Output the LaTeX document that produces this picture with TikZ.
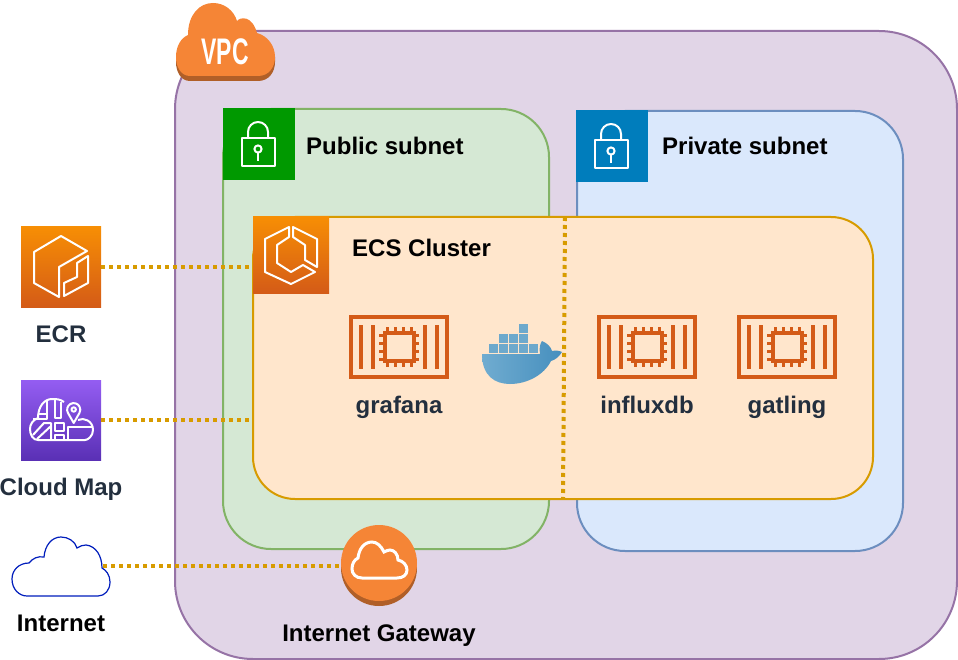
\documentclass[tikz,border=0pt]{standalone}
\usepackage{fontspec}
\setmainfont{Liberation Sans}
\definecolor{vpcfill}{HTML}{E1D5E7}
\definecolor{vpcline}{HTML}{9673A6}
\definecolor{pubfill}{HTML}{D5E8D4}
\definecolor{publine}{HTML}{82B366}
\definecolor{prifill}{HTML}{DAE8FC}
\definecolor{priline}{HTML}{6C8EBF}
\definecolor{ecsfill}{HTML}{FFE6CC}
\definecolor{ecsline}{HTML}{D79B00}
\definecolor{awsink}{HTML}{232F3E}
\definecolor{awsorange}{HTML}{F58536}
\definecolor{awsshadow}{HTML}{B05F28}
\definecolor{chipline}{HTML}{D45B17}
\definecolor{chiptop}{HTML}{F78E04}
\definecolor{mapltop}{HTML}{945DF2}
\definecolor{maplbot}{HTML}{5A30B5}
\definecolor{netline}{HTML}{001DBC}
\definecolor{cratefill}{HTML}{6DA9CC}
\definecolor{prilockfill}{HTML}{007DBC}
\definecolor{publockfill}{HTML}{009900}
\tikzset{
    groupbox/.style={draw, line width=2pt, inner sep=0pt},
    iconbox/.style={inner sep=0pt, minimum size=#1},
    caption/.style={font=\fontsize{24}{28}\selectfont\bfseries, inner sep=0pt, anchor=base},
    linkline/.style={draw=ecsline, line width=4pt, dash pattern=on 4pt off 4pt},
    whitestroke/.style={draw=white, line width=2pt, line join=round},
    lockicon/.pic={
        \draw[whitestroke] (-17,-6) rectangle (16,22);
        \draw[whitestroke] (-11,-6) -- (-11,-12) arc (180:360:10) -- (9,-6);
        \draw[whitestroke] (-1,5) circle (3.6);
        \draw[whitestroke] (-1,8.6) -- (-1,17);
    },
    chipicon/.pic={
        \draw[chipline, line width=4pt] (-48,-30) rectangle (48,30);
        \foreach \x in {-38,-26,26,38}
            \draw[chipline, line width=4pt] (\x,-22) -- (\x,22);
        \draw[chipline, line width=4pt] (-14.5,-14) rectangle (14.5,14);
        \foreach \p in {-12,-4,4,12} {
            \draw[chipline, line width=3pt] (\p,-20) -- (\p,20);
            \draw[chipline, line width=3pt] (-20,\p) -- (20,\p);
        }
        \fill[ecsfill] (-12.5,-12) rectangle (12.5,12);
    },
}

\begin{document}
\begin{tikzpicture}[x=1pt,y=-1pt]
    \useasboundingbox (0,0) rectangle (958,660);

    % Группы
    \node (vpc) at (566,345) [groupbox, draw=vpcline, fill=vpcfill, rounded corners=78pt,
        minimum width=782pt, minimum height=628pt] {};
    \node (public) at (386,329) [groupbox, draw=publine, fill=pubfill, rounded corners=48pt,
        minimum width=326pt, minimum height=440pt] {};
    \node (private) at (740,331) [groupbox, draw=priline, fill=prifill, rounded corners=48pt,
        minimum width=326pt, minimum height=440pt] {};
    \node (cluster) at (563,358) [groupbox, draw=ecsline, fill=ecsfill, rounded corners=42pt,
        minimum width=620pt, minimum height=282pt] {};

    % Облако VPC
    \fill[awsshadow] (190,81) .. controls (181,81) and (176,72) .. (176,62) -- (176,57) -- (275,57) -- (275,62)
        .. controls (275,72) and (269,81) .. (258,81) -- cycle;
    \fill[awsorange] (190,76) .. controls (181,76) and (176,67) .. (176,57)
        .. controls (176,46) and (181,38) .. (188,35)
        .. controls (188,15) and (199,3) .. (213,3)
        .. controls (225,3) and (234,11) .. (237,21)
        .. controls (240,17) and (252,15) .. (257,33)
        .. controls (268,36) and (275,46) .. (275,57)
        .. controls (275,67) and (269,76) .. (258,76) -- cycle;
    \node (vpclabel) at (225,52) [text=white, xscale=.62, font=\fontsize{37}{37}\selectfont\bfseries] {VPC};

    % Подсети
    \node (publock) at (259,144) [iconbox=72pt, fill=publockfill] {};
    \pic at (259,144) {lockicon};
    \node (prilock) at (612,146) [iconbox=72pt, fill=prilockfill] {};
    \pic at (612,146) {lockicon};
    \node (publabel) at (306,155) [caption, anchor=base west] {Public subnet};
    \node (prilabel) at (662,155) [caption, anchor=base west] {Private subnet};

    % Значок кластера
    \node (ecs) at (291,255) [iconbox=76pt, top color=chiptop, bottom color=chipline] {};
    \draw[whitestroke] (289,227) -- (265,239) -- (265,272) -- (291,284) -- (315,272) -- (303,265) -- (291,272)
        -- (277,263) -- (277,245) -- (289,237) -- cycle;
    \draw[whitestroke] (293,227) -- (317,239) -- (317,267) -- (305,260) -- (305,245) -- (293,237) -- cycle;
    \node (ecslabel) at (352,257) [caption, anchor=base west] {ECS Cluster};

    % Значок ECR
    \node (ecr) at (61,267) [iconbox=80pt, top color=chiptop, bottom color=chipline] {};
    \draw[whitestroke] (61,236) -- (34,252) -- (34,283) -- (59,297) -- (59,267) -- (87,251) -- cycle;
    \draw[whitestroke] (88,256) -- (88,283) -- (64,296) -- (64,283) -- (77,277) -- (77,263) -- cycle;
    \node (ecrlabel) at (61,342) [caption, text=awsink] {ECR};

    % Значок Cloud Map
    \node (cloudmap) at (61,420) [iconbox=80pt, top color=mapltop, bottom color=maplbot] {};
    \draw[whitestroke] (64,402) .. controls (60,399) and (56,399) .. (52,399) .. controls (44,399) and (38,407) .. (38,418)
        .. controls (33,420) and (30,424) .. (30,429) .. controls (30,435) and (33,440) .. (38,440)
        -- (85,440) .. controls (88,440) and (93,436) .. (93,430) .. controls (93,421) and (84,417) .. (78,420);
    \draw[whitestroke] (73.7,423) -- (68,413) arc (150:390:6.6) -- cycle;
    \draw[whitestroke] (73.7,409.5) circle (2.2);
    \draw[whitestroke] (47,400) -- (47,419) -- (33,419);
    \draw[whitestroke] (38,414) -- (47,414);
    \draw[whitestroke] (55,400) -- (55,418) -- (61,418) -- (61,402);
    \draw[whitestroke] (55,423) rectangle (64,431);
    \draw[whitestroke] (55,435) rectangle (64,440);
    \draw[whitestroke] (33,435) -- (44,423) -- (51,423) -- (51,440);
    \draw[whitestroke] (37,439) -- (51,426);
    \draw[whitestroke] (92,427) -- (68,427) -- (68,440);
    \node (cloudmaplabel) at (61,495) [caption, text=awsink] {Cloud Map};

    % Контейнеры
    \pic at (399,347) {chipicon};
    \pic at (647,347) {chipicon};
    \pic at (787,347) {chipicon};
    \node (grafana) at (399,413) [caption, text=awsink] {grafana};
    \node (influxdb) at (647,413) [caption, text=awsink] {influxdb};
    \node (gatling) at (787,413) [caption, text=awsink] {gatling};

    % Кит
    \foreach \x in {488.5,498.5,508.5,518.5,528.5}
        \fill[cratefill] (\x,344) rectangle +(9,9);
    \foreach \x in {498.5,508.5,518.5}
        \fill[cratefill] (\x,334) rectangle +(9,9);
    \fill[cratefill] (518.5,324) rectangle +(9,9);
    \shade[left color={rgb,255:red,112;green,172;blue,208}, right color={rgb,255:red,70;green,143;blue,190}]
        (482,354) -- (540,354) .. controls (539,348) and (540,344) .. (542,341)
        .. controls (547,343) and (551,347) .. (552,351) .. controls (556,350) and (560,351) .. (562,352)
        .. controls (559,357) and (555,360) .. (551,361) .. controls (544,375) and (527,384) .. (510,384)
        .. controls (495,384) and (482,376) .. (482,354) -- cycle;

    % Шлюз и интернет
    \fill[awsshadow] (379,568) circle (38);
    \node (gateway) at (379,563) [circle, fill=awsorange, inner sep=0pt, minimum size=76pt] {};
    \draw[white, line width=3pt] (362,578) -- (397,578) .. controls (403,578) and (407,575) .. (407,570)
        .. controls (407,565) and (403,561) .. (398,560) .. controls (398,554) and (394,550) .. (390,550)
        .. controls (388,550) and (386,551) .. (384,552) .. controls (381,546) and (377,542) .. (372,542)
        .. controls (364,542) and (359,549) .. (358,558) .. controls (354,560) and (352,564) .. (352,569)
        .. controls (352,574) and (356,578) .. (362,578) -- cycle;
    \node (gatewaylabel) at (379,641) [caption] {Internet Gateway};
    \draw[netline, line width=1.2pt, fill=white] (27,596) -- (98,596) .. controls (105,596) and (110,590) .. (110,582)
        .. controls (110,575) and (106,570) .. (102,568) .. controls (102,556) and (96,546) .. (86,545)
        .. controls (83,545) and (80,546) .. (77,548) .. controls (75,541) and (68,537) .. (61,537)
        .. controls (52,537) and (45,545) .. (44,557) .. controls (38,556) and (33,558) .. (29,563)
        .. controls (19,563) and (12,570) .. (12,579) .. controls (12,589) and (19,596) .. (27,596) -- cycle;
    \coordinate (internet) at (103,566);
    \node (internetlabel) at (61,631) [caption] {Internet};

    % Связи
    \draw[linkline] (ecr.east) -- (ecr.east -| cluster.west);
    \draw[linkline] (cloudmap.east) -- (cloudmap.east -| cluster.west);
    \draw[linkline] (internet) -- (internet -| gateway.west);
    \coordinate (splittop) at (565,217);
    \coordinate (splitbot) at (563,499);
    \draw[linkline] (splittop) -- (splitbot);
\end{tikzpicture}
\end{document}
